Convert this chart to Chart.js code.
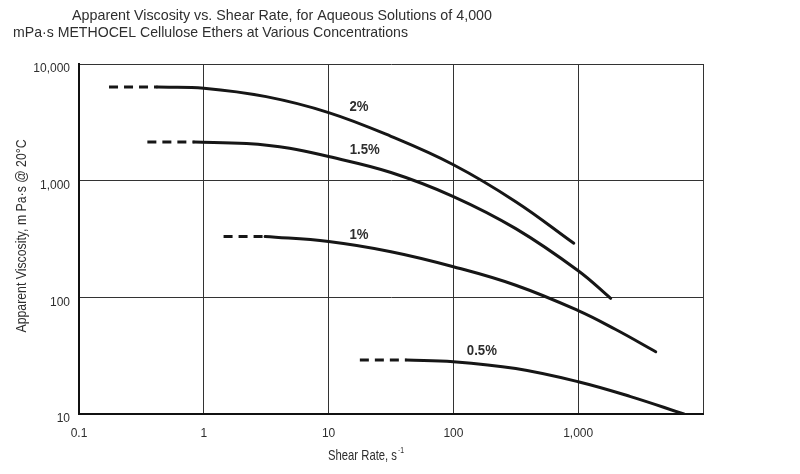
<!DOCTYPE html>
<html>
<head>
<meta charset="utf-8">
<script src="https://cdn.jsdelivr.net/npm/chart.js@4.4.1/dist/chart.umd.min.js"></script>
<style>
  body { margin: 0; background: #fff; }
  #myChart { display: block; }
</style>
</head>
<body>
<canvas id="myChart" width="800" height="474"></canvas>
<script>
//axis ticks (log scales)
const xTicks = [0.1, 1, 10, 100, 1000, 10000];
const yTicks = [10, 100, 1000, 10000];

//series names, as written next to each curve
const seriesNames = ["2%", "1.5%", "1%", "0.5%"];

//2% solution: measured part and extrapolated (dashed) part
const shear2 = [0.425, 1, 3.16, 10, 31.6, 100, 316, 922];
const visc2 = [6340, 6210, 5250, 3835, 2400, 1370, 661, 291];
const dashShear2 = [0.174, 0.425];
const dashVisc2 = [6340, 6340];

//1.5% solution
const shear15 = [0.84, 2.2, 4.87, 10, 31.6, 100, 316, 1000, 1820];
const visc15 = [2140, 2080, 1900, 1610, 1175, 731, 388, 169, 98];
const dashShear15 = [0.353, 0.84];
const dashVisc15 = [2140, 2140];

//1% solution
const shear1 = [3.1, 10, 31.6, 100, 316, 1000, 2000, 4180];
const visc1 = [332, 301, 246, 183, 127, 77, 53, 34.2];
const dashShear1 = [1.44, 3.1];
const dashVisc1 = [332, 332];

//0.5% solution
const shear05 = [42, 100, 316, 1000, 2630, 7030];
const visc05 = [29, 28.1, 24.5, 18.9, 14.1, 10];
const dashShear05 = [17.8, 42];
const dashVisc05 = [29, 29];

//where each series name sits (shear rate, viscosity)
const labelShear = [17.5, 19.5, 17.5, 169];
const labelVisc = [4270, 1835, 343, 34.9];

//texts
const titleLines = [
  "Apparent Viscosity vs. Shear Rate, for Aqueous Solutions of 4,000",
  "mPa\u00b7s METHOCEL Cellulose Ethers at Various Concentrations",
];
const xTitle = "Shear Rate, s";
const yTitle = "Apparent Viscosity, m Pa\u00b7s @ 20\u00b0C";

const family = "'Liberation Sans', Arial, sans-serif";
const ink = "#161616";
const textInk = "#2e2e2e";

//turn two arrays into {x, y} points
function toPoints(xs, ys) {
  return xs.map((x, i) => ({ x: x, y: ys[i] }));
}

function solidLine(xs, ys) {
  return {
    data: toPoints(xs, ys),
    showLine: true,
    borderColor: ink,
    borderWidth: 3,
    pointRadius: 0,
    tension: 0.4,
    borderCapStyle: "round",
  };
}

function dashLine(xs, ys) {
  return {
    data: toPoints(xs, ys),
    showLine: true,
    borderColor: ink,
    borderWidth: 3,
    pointRadius: 0,
    borderDash: [9, 6],
  };
}

function formatTick(v) {
  if (v >= 1000) return v.toLocaleString("en-US");
  return String(v);
}

//draw text squeezed horizontally, the original uses a condensed face
function squeezed(ctx, text, x, y, sx) {
  ctx.save();
  ctx.translate(x, y);
  ctx.scale(sx, 1);
  ctx.fillText(text, 0, 0);
  ctx.restore();
}

//titles and curve labels drawn on the canvas
const textPlugin = {
  id: "chartText",
  afterDraw(chart) {
    const ctx = chart.ctx;
    const xs = chart.scales.x;
    const ys = chart.scales.y;
    ctx.save();
    ctx.fillStyle = textInk;

    //chart title
    ctx.font = "15px " + family;
    ctx.textAlign = "left";
    ctx.textBaseline = "alphabetic";
    squeezed(ctx, titleLines[0], 72, 20, 420 / ctx.measureText(titleLines[0]).width);
    squeezed(ctx, titleLines[1], 13, 37, 395 / ctx.measureText(titleLines[1]).width);

    //series labels
    ctx.font = "bold 15px " + family;
    ctx.textAlign = "center";
    ctx.textBaseline = "middle";
    seriesNames.forEach((name, i) => {
      squeezed(ctx, name, xs.getPixelForValue(labelShear[i]), ys.getPixelForValue(labelVisc[i]), 0.88);
    });

    //x axis title with superscript
    ctx.font = "15px " + family;
    ctx.textAlign = "left";
    ctx.textBaseline = "alphabetic";
    const sx = 69 / ctx.measureText(xTitle).width;
    squeezed(ctx, xTitle, 328, 460, sx);
    ctx.font = "9px " + family;
    squeezed(ctx, "-1", 398, 453, sx);

    //y axis title
    ctx.font = "14px " + family;
    const sy = 193 / ctx.measureText(yTitle).width;
    ctx.translate(22, 236);
    ctx.rotate(-Math.PI / 2);
    ctx.textAlign = "center";
    ctx.textBaseline = "middle";
    squeezed(ctx, yTitle, 0, 0, sy);
    ctx.restore();
  },
};

const data = {
  datasets: [
    solidLine(shear2, visc2),
    dashLine(dashShear2, dashVisc2),
    solidLine(shear15, visc15),
    dashLine(dashShear15, dashVisc15),
    solidLine(shear1, visc1),
    dashLine(dashShear1, dashVisc1),
    solidLine(shear05, visc05),
    dashLine(dashShear05, dashVisc05),
  ],
};

const config = {
  type: "scatter",
  data: data,
  options: {
    responsive: false,
    animation: false,
    devicePixelRatio: 1,
    layout: { padding: { left: 0, top: 64, right: 97, bottom: 0 } },
    plugins: {
      legend: { display: false },
      tooltip: { enabled: false },
    },
    scales: {
      x: {
        type: "logarithmic",
        min: 0.1,
        max: 10000,
        afterBuildTicks: (scale) => {
          scale.ticks = xTicks.map((v) => ({ value: v }));
        },
        afterFit: (scale) => {
          scale.height = 60;
        },
        ticks: {
          autoSkip: false,
          maxRotation: 0,
          padding: 12,
          color: textInk,
          font: { family: family, size: 12 },
          callback: (v) => (v === 10000 ? "" : formatTick(v)),
        },
        grid: { color: "#333", lineWidth: 1, drawTicks: false },
        border: { color: "#111", width: 2 },
      },
      y: {
        type: "logarithmic",
        min: 10,
        max: 10000,
        afterBuildTicks: (scale) => {
          scale.ticks = yTicks.map((v) => ({ value: v }));
        },
        afterFit: (scale) => {
          scale.width = 79;
        },
        ticks: {
          autoSkip: false,
          padding: 9,
          labelOffset: 5,
          color: textInk,
          font: { family: family, size: 12 },
          callback: (v) => formatTick(v),
        },
        grid: { color: "#333", lineWidth: 1, drawTicks: false },
        border: { color: "#111", width: 2 },
      },
    },
  },
  plugins: [textPlugin],
};

//chart set up
const myChart = new Chart(document.getElementById("myChart"), config);
</script>
</body>
</html>
